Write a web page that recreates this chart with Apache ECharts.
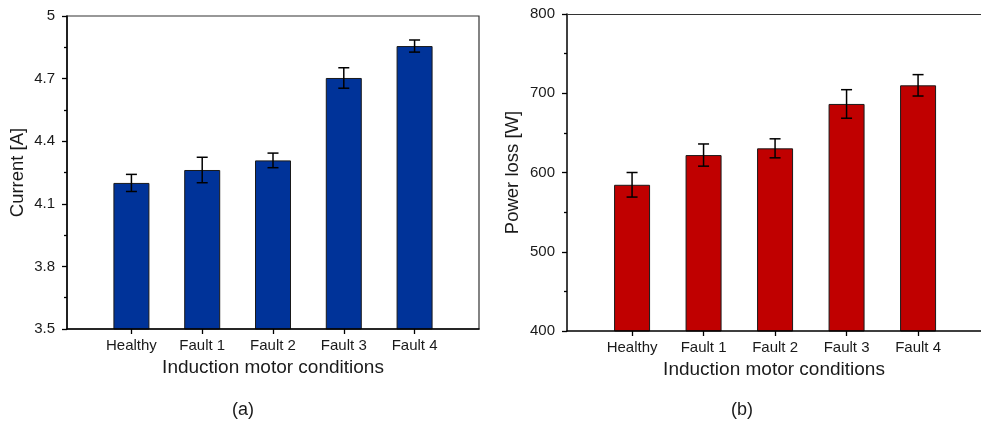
<!DOCTYPE html>
<html>
<head>
<meta charset="utf-8">
<script src="https://cdn.jsdelivr.net/npm/echarts@6/dist/echarts.min.js"></script>
<style>
  html, body { margin: 0; padding: 0; background: #fff; }
  #chart { width: 981px; height: 423px; }
</style>
</head>
<body>
<div id="chart"></div>
<script>
// data
const conditions = ['Healthy', 'Fault 1', 'Fault 2', 'Fault 3', 'Fault 4'];
const positions = [1, 2, 3, 4, 5];
const currentMean = [4.20, 4.262, 4.308, 4.703, 4.856];
const currentErr = [0.041, 0.061, 0.035, 0.049, 0.029];
const powerMean = [584.5, 622, 630.5, 686.5, 710];
const powerErr = [15.5, 14, 12, 18, 13.5];

// tick labels
const currentTicks = [3.5, 3.8, 4.1, 4.4, 4.7, 5];
const currentMinor = [3.65, 3.95, 4.25, 4.55, 4.85];
const powerTicks = [400, 500, 600, 700, 800];
const powerMinor = [450, 550, 650, 750];

const font = 'Liberation Sans, Arial, sans-serif';
const ink = '#1a1a1a';

const chart = echarts.init(document.getElementById('chart'));

const barData = vals => vals.map((v, i) => [positions[i], v]);
const errData = (vals, errs) => vals.map((v, i) => [positions[i], v - errs[i], v + errs[i]]);

const errorBars = (params, api) => {
	const x = api.value(0);
	const lo = api.coord([x, api.value(1)]);
	const hi = api.coord([x, api.value(2)]);
	const w = 5.5;
	const style = { stroke: '#000', lineWidth: 1.5 };
	return {
		type: 'group',
		children: [
			{ type: 'line', shape: { x1: hi[0], y1: hi[1], x2: lo[0], y2: lo[1] }, style },
			{ type: 'line', shape: { x1: hi[0] - w, y1: hi[1], x2: hi[0] + w, y2: hi[1] }, style },
			{ type: 'line', shape: { x1: lo[0] - w, y1: lo[1], x2: lo[0] + w, y2: lo[1] }, style }
		]
	};
};

const xAxisFor = (gridIndex, max) => ({
	type: 'value', gridIndex, min: 0.09, max, z: 5,
	name: 'Induction motor conditions', nameLocation: 'middle', nameGap: 28,
	nameTextStyle: { fontFamily: font, fontSize: 19, color: ink, verticalAlign: 'top' },
	axisLine: { show: true, lineStyle: { color: '#000', width: 1.5 } },
	axisTick: { show: true, customValues: positions, length: 5, lineStyle: { color: '#000', width: 1.3 } },
	axisLabel: {
		customValues: positions, margin: 9,
		fontFamily: font, fontSize: 15, color: ink,
		formatter: v => conditions[Math.round(v) - 1] || ''
	},
	splitLine: { show: false }
});

// plain line along the top of the right panel (its right edge is cut off)
const topLineFor = (gridIndex, max) => ({
	type: 'value', gridIndex, min: 0.09, max, position: 'top', z: 5,
	axisLine: { show: true, lineStyle: { color: '#333', width: 1.2 } },
	axisTick: { show: false },
	axisLabel: { show: false },
	splitLine: { show: false }
});

const yAxisFor = (gridIndex, min, max, ticks, name, nameGap) => ({
	type: 'value', gridIndex, min, max, z: 5, position: 'left',
	name, nameLocation: 'middle', nameGap,
	nameTextStyle: { fontFamily: font, fontSize: 18.5, color: ink },
	axisLine: { show: true, lineStyle: { color: '#000', width: 1.5 } },
	axisTick: { show: true, customValues: ticks, length: 5, lineStyle: { color: '#000', width: 1.3 } },
	axisLabel: { customValues: ticks, margin: 12, fontFamily: font, fontSize: 15, color: ink },
	splitLine: { show: false }
});

const minorAxisFor = (gridIndex, min, max, ticks) => ({
	type: 'value', gridIndex, min, max, z: 5, position: 'left',
	axisLine: { show: false },
	axisTick: { show: true, customValues: ticks, length: 3, lineStyle: { color: '#000', width: 1.3 } },
	axisLabel: { show: false },
	splitLine: { show: false }
});

const rightMax = 0.09 + 414 / 71.5;

const option = {
	backgroundColor: '#fff',
	animation: false,
	grid: [
		{ left: 67, top: 16, width: 412, height: 313, show: true, borderColor: '#333', borderWidth: 1.2 },
		{ left: 567, top: 14, width: 414, height: 317, show: false }
	],
	xAxis: [xAxisFor(0, 5.91), xAxisFor(1, rightMax), topLineFor(1, rightMax)],
	yAxis: [
		yAxisFor(0, 3.5, 5, currentTicks, 'Current [A]', 40),
		yAxisFor(1, 400, 800, powerTicks, 'Power loss [W]', 45),
		minorAxisFor(0, 3.5, 5, currentMinor),
		minorAxisFor(1, 400, 800, powerMinor)
	],
	series: [
		{
			type: 'bar', xAxisIndex: 0, yAxisIndex: 0, barWidth: 36, clip: true,
			data: barData(currentMean),
			itemStyle: { color: '#003399', borderColor: '#1a1a1a', borderWidth: 1 }
		},
		{
			type: 'custom', xAxisIndex: 0, yAxisIndex: 0, z: 4,
			data: errData(currentMean, currentErr), renderItem: errorBars
		},
		{
			type: 'bar', xAxisIndex: 1, yAxisIndex: 1, barWidth: 36, clip: true,
			data: barData(powerMean),
			itemStyle: { color: '#c00000', borderColor: '#1a1a1a', borderWidth: 1 }
		},
		{
			type: 'custom', xAxisIndex: 1, yAxisIndex: 1, z: 4,
			data: errData(powerMean, powerErr), renderItem: errorBars
		}
	],
	graphic: [
		{ type: 'text', x: 243, y: 410, style: { text: '(a)', font: '18px ' + font, fill: ink, textAlign: 'center', textVerticalAlign: 'middle' } },
		{ type: 'text', x: 742, y: 410, style: { text: '(b)', font: '18px ' + font, fill: ink, textAlign: 'center', textVerticalAlign: 'middle' } }
	]
};

chart.setOption(option);
</script>
</body>
</html>
